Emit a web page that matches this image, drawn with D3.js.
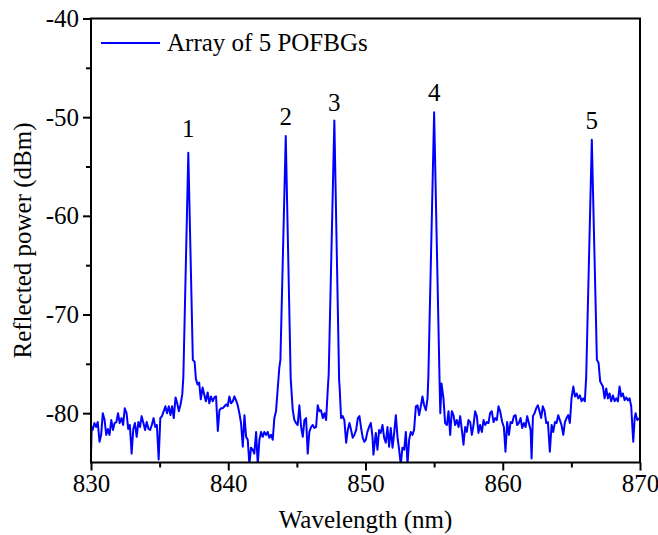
<!DOCTYPE html>
<html>
<head>
<meta charset="utf-8">
<script src="https://cdn.jsdelivr.net/npm/d3@7"></script>
<style>
  body { margin: 0; background: #fff; }
  text { font-family: "Liberation Serif", "Times New Roman", serif; fill: #000; }
</style>
</head>
<body>
<svg id="chart" width="658" height="535"></svg>
<script>
// reflection spectrum, [wavelength nm, power dBm]
var spectrum = [
  [830.00,-84.3],[830.05,-81.4],[830.12,-81.7],[830.25,-81.0],[830.37,-81.4],[830.49,-80.9],[830.62,-82.9],[830.74,-82.2],
  [830.86,-80.0],[830.99,-80.7],[831.11,-82.2],[831.23,-81.6],[831.35,-82.2],[831.48,-80.7],[831.60,-81.7],[831.72,-81.0],
  [831.85,-80.9],[831.97,-80.0],[832.09,-81.0],[832.22,-80.5],[832.34,-81.2],[832.46,-79.5],[832.59,-80.0],[832.71,-81.6],
  [832.83,-81.2],[832.96,-84.1],[833.08,-81.6],[833.20,-81.0],[833.33,-82.4],[833.45,-80.9],[833.57,-81.4],[833.69,-80.3],
  [833.82,-81.0],[833.94,-81.7],[834.06,-80.9],[834.19,-81.6],[834.31,-81.7],[834.43,-81.2],[834.56,-80.5],[834.68,-81.4],
  [834.80,-81.2],[834.93,-84.7],[835.05,-80.5],[835.17,-80.3],[835.30,-79.8],[835.42,-79.3],[835.54,-80.0],[835.67,-79.3],
  [835.79,-80.2],[835.91,-79.3],[836.03,-80.5],[836.16,-78.4],[836.28,-79.0],[836.40,-79.8],[836.53,-79.1],[836.65,-78.1],
  [836.73,-76.3],[837.09,-53.6],[837.42,-74.6],[837.55,-74.8],[837.64,-76.5],[837.76,-77.1],[837.88,-76.9],[838.00,-78.6],
  [838.13,-77.4],[838.25,-78.1],[838.37,-78.8],[838.50,-77.9],[838.62,-79.0],[838.74,-78.3],[838.87,-78.8],[838.99,-78.4],
  [839.11,-78.3],[839.24,-81.8],[839.36,-79.7],[839.48,-79.5],[839.61,-79.5],[839.73,-79.3],[839.85,-79.1],[839.96,-79.3],
  [840.08,-78.3],[840.20,-79.0],[840.33,-78.8],[840.45,-78.3],[840.57,-78.7],[840.69,-79.2],[840.81,-80.0],[840.93,-81.0],
  [841.06,-83.4],[841.18,-80.2],[841.30,-82.4],[841.42,-82.7],[841.54,-85.2],[841.66,-83.5],[841.78,-83.7],[841.90,-84.1],
  [842.03,-81.9],[842.15,-85.2],[842.27,-82.7],[842.39,-81.9],[842.51,-82.4],[842.63,-81.9],[842.76,-82.2],[842.88,-81.9],
  [842.99,-82.5],[843.12,-82.2],[843.24,-82.7],[843.36,-80.5],[843.48,-79.8],[843.60,-77.6],[843.72,-75.4],[843.80,-74.6],
  [844.19,-51.9],[844.55,-76.5],[844.70,-79.7],[844.82,-80.7],[844.94,-81.0],[845.06,-81.2],[845.18,-79.2],[845.31,-81.4],
  [845.43,-82.4],[845.55,-80.7],[845.67,-80.5],[845.79,-84.1],[845.91,-81.9],[846.04,-81.4],[846.16,-81.2],[846.28,-81.5],
  [846.40,-81.4],[846.52,-79.2],[846.64,-79.8],[846.76,-79.7],[846.89,-80.5],[847.01,-80.0],[847.13,-80.7],[847.25,-77.6],
  [847.32,-76.0],[847.73,-50.35],[848.08,-76.7],[848.12,-77.5],[848.22,-80.5],[848.34,-80.3],[848.46,-80.7],[848.59,-83.0],
  [848.71,-81.7],[848.83,-81.0],[848.95,-81.7],[849.07,-82.5],[849.19,-82.2],[849.32,-81.7],[849.44,-80.5],[849.56,-80.3],
  [849.68,-81.5],[849.80,-82.5],[849.92,-82.9],[850.02,-82.7],[850.14,-81.9],[850.26,-81.4],[850.39,-81.0],[850.51,-82.4],
  [850.58,-84.2],[850.75,-82.0],[850.87,-83.7],[850.99,-81.7],[851.11,-82.0],[851.24,-81.2],[851.36,-82.5],[851.48,-83.0],
  [851.60,-81.4],[851.72,-83.4],[851.84,-81.5],[851.97,-83.5],[852.09,-82.0],[852.21,-80.2],[852.33,-82.4],[852.45,-83.7],
  [852.57,-85.2],[852.69,-83.5],[852.82,-83.7],[852.94,-81.9],[853.06,-85.2],[853.18,-82.7],[853.30,-81.9],[853.42,-82.2],
  [853.54,-81.7],[853.67,-79.3],[853.79,-79.2],[853.91,-80.2],[854.03,-79.3],[854.15,-78.3],[854.27,-79.2],[854.40,-79.7],
  [854.52,-78.5],[854.58,-76.3],[855.00,-49.5],[855.39,-76.3],[855.45,-80.0],[855.54,-77.0],[855.68,-78.5],[855.80,-81.0],
  [855.93,-81.2],[856.05,-79.8],[856.17,-82.2],[856.29,-79.8],[856.41,-80.2],[856.53,-81.2],[856.65,-80.7],[856.78,-81.4],
  [856.90,-80.3],[857.02,-81.7],[857.14,-83.2],[857.26,-81.4],[857.38,-81.9],[857.50,-80.7],[857.63,-80.9],[857.75,-82.2],
  [857.87,-81.2],[857.99,-79.8],[858.11,-80.3],[858.23,-82.0],[858.35,-81.2],[858.48,-81.9],[858.60,-80.7],[858.72,-81.2],
  [858.84,-80.9],[858.96,-81.0],[859.08,-80.0],[859.20,-79.8],[859.33,-80.9],[859.45,-80.5],[859.57,-80.7],[859.69,-79.3],
  [859.81,-79.8],[859.96,-80.9],[860.08,-81.4],[860.20,-83.9],[860.32,-80.9],[860.45,-82.2],[860.57,-80.9],[860.69,-81.0],
  [860.81,-80.3],[860.93,-80.2],[861.05,-81.2],[861.17,-81.0],[861.30,-80.5],[861.42,-81.5],[861.54,-81.0],[861.66,-81.4],
  [861.78,-80.3],[861.90,-81.0],[862.03,-81.7],[862.10,-84.6],[862.20,-80.3],[862.32,-80.0],[862.44,-79.5],[862.56,-79.2],
  [862.68,-79.8],[862.80,-80.5],[862.92,-79.3],[863.05,-79.8],[863.17,-81.0],[863.29,-80.9],[863.43,-83.9],[863.56,-81.2],
  [863.68,-81.9],[863.80,-80.9],[863.92,-81.0],[864.04,-80.2],[864.16,-80.7],[864.28,-81.2],[864.41,-82.2],[864.53,-80.9],
  [864.65,-80.5],[864.77,-80.2],[864.89,-81.0],[865.01,-78.5],[865.14,-77.3],[865.26,-78.3],[865.38,-78.0],[865.50,-78.5],
  [865.62,-78.2],[865.74,-78.8],[865.86,-78.5],[865.98,-78.8],[866.08,-76.3],[866.49,-52.3],[866.86,-74.6],[866.98,-74.9],
  [867.10,-76.8],[867.18,-77.0],[867.30,-77.3],[867.42,-78.5],[867.54,-77.5],[867.66,-78.5],[867.78,-78.0],[867.90,-78.8],
  [868.03,-78.2],[868.15,-78.8],[868.27,-78.5],[868.39,-78.8],[868.51,-77.3],[868.63,-78.3],[868.75,-78.0],[868.88,-78.7],
  [869.00,-78.4],[869.12,-78.7],[869.24,-78.5],[869.36,-79.3],[869.44,-81.3],[869.51,-82.9],[869.61,-80.5],[869.68,-80.0],
  [869.80,-80.7],[869.92,-80.5]
]

var peakNames = ["1", "2", "3", "4", "5"]
var peakWavelengths = [837.09, 844.19, 847.73, 855.00, 866.49]
var peakLabelLevels = [-52.0, -50.8, -49.4, -48.4, -51.2]

var xTicks = [830, 840, 850, 860, 870]
var xMinorTicks = [835, 845, 855, 865]
var yTicks = [-40, -50, -60, -70, -80]
var yMinorTicks = [-45, -55, -65, -75]

var seriesName = "Array of 5 POFBGs"

var fontSize = "25px"
var svg = d3.select("#chart")
var margin = {left: 91, top: 18.5, right: 18, bottom: 72.5}
var width = 658 - margin.left - margin.right
var height = 535 - margin.top - margin.bottom

var x = d3.scaleLinear().domain([830, 870]).range([0, width])
var y = d3.scaleLinear().domain([-85, -40]).range([height, 0])

var g = svg.append("g").attr("transform", "translate(" + margin.left + "," + margin.top + ")")

g.append("clipPath").attr("id", "clip")
  .append("rect").attr("width", width).attr("height", height)

var line = d3.line()
  .x(function(d) { return x(d[0]) })
  .y(function(d) { return y(d[1]) })

g.append("path")
  .datum(spectrum)
  .attr("clip-path", "url(#clip)")
  .attr("fill", "none")
  .attr("stroke", "#0000ff")
  .attr("stroke-width", 2)
  .attr("stroke-linejoin", "round")
  .attr("d", line)

// axes, ticks outside, labels with a plain hyphen
var plain = function(d) { return String(d) }
var xAxis = g.append("g").attr("transform", "translate(0," + height + ")")
  .call(d3.axisBottom(x).tickValues(xTicks).tickSize(8).tickPadding(4).tickFormat(plain))
xAxis.append("g")
  .call(d3.axisBottom(x).tickValues(xMinorTicks).tickSize(5).tickFormat(""))
var yAxis = g.append("g")
  .call(d3.axisLeft(y).tickValues(yTicks).tickSize(8).tickPadding(4).tickFormat(plain))
yAxis.append("g")
  .call(d3.axisLeft(y).tickValues(yMinorTicks).tickSize(5).tickFormat(""))

g.selectAll(".domain").remove()
g.selectAll(".tick line").attr("stroke", "#000").attr("stroke-width", 2)
g.selectAll(".tick text").style("font-size", fontSize).style("font-family", "'Liberation Serif', serif")

g.append("rect")
  .attr("width", width).attr("height", height)
  .attr("fill", "none").attr("stroke", "#000").attr("stroke-width", 2)

// peak numbers
g.selectAll(".peak-label")
  .data(peakNames)
  .enter().append("text")
  .attr("class", "peak-label")
  .attr("x", function(d, i) { return x(peakWavelengths[i]) })
  .attr("y", function(d, i) { return y(peakLabelLevels[i]) })
  .attr("text-anchor", "middle")
  .style("font-size", fontSize)
  .text(function(d) { return d })

// legend
var legend = g.append("g").attr("transform", "translate(10,24.5)")
legend.append("line").attr("x1", 0).attr("x2", 59).attr("y1", 0).attr("y2", 0)
  .attr("stroke", "#0000ff").attr("stroke-width", 2)
legend.append("text").attr("x", 66).attr("y", 8).style("font-size", fontSize).text(seriesName)

// axis titles
svg.append("text")
  .attr("x", margin.left + width / 2).attr("y", 528)
  .attr("text-anchor", "middle").style("font-size", fontSize)
  .text("Wavelength (nm)")
svg.append("text")
  .attr("transform", "translate(31," + (margin.top + height / 2) + ") rotate(-90)")
  .attr("text-anchor", "middle").style("font-size", fontSize)
  .text("Reflected power (dBm)")
</script>
</body>
</html>
